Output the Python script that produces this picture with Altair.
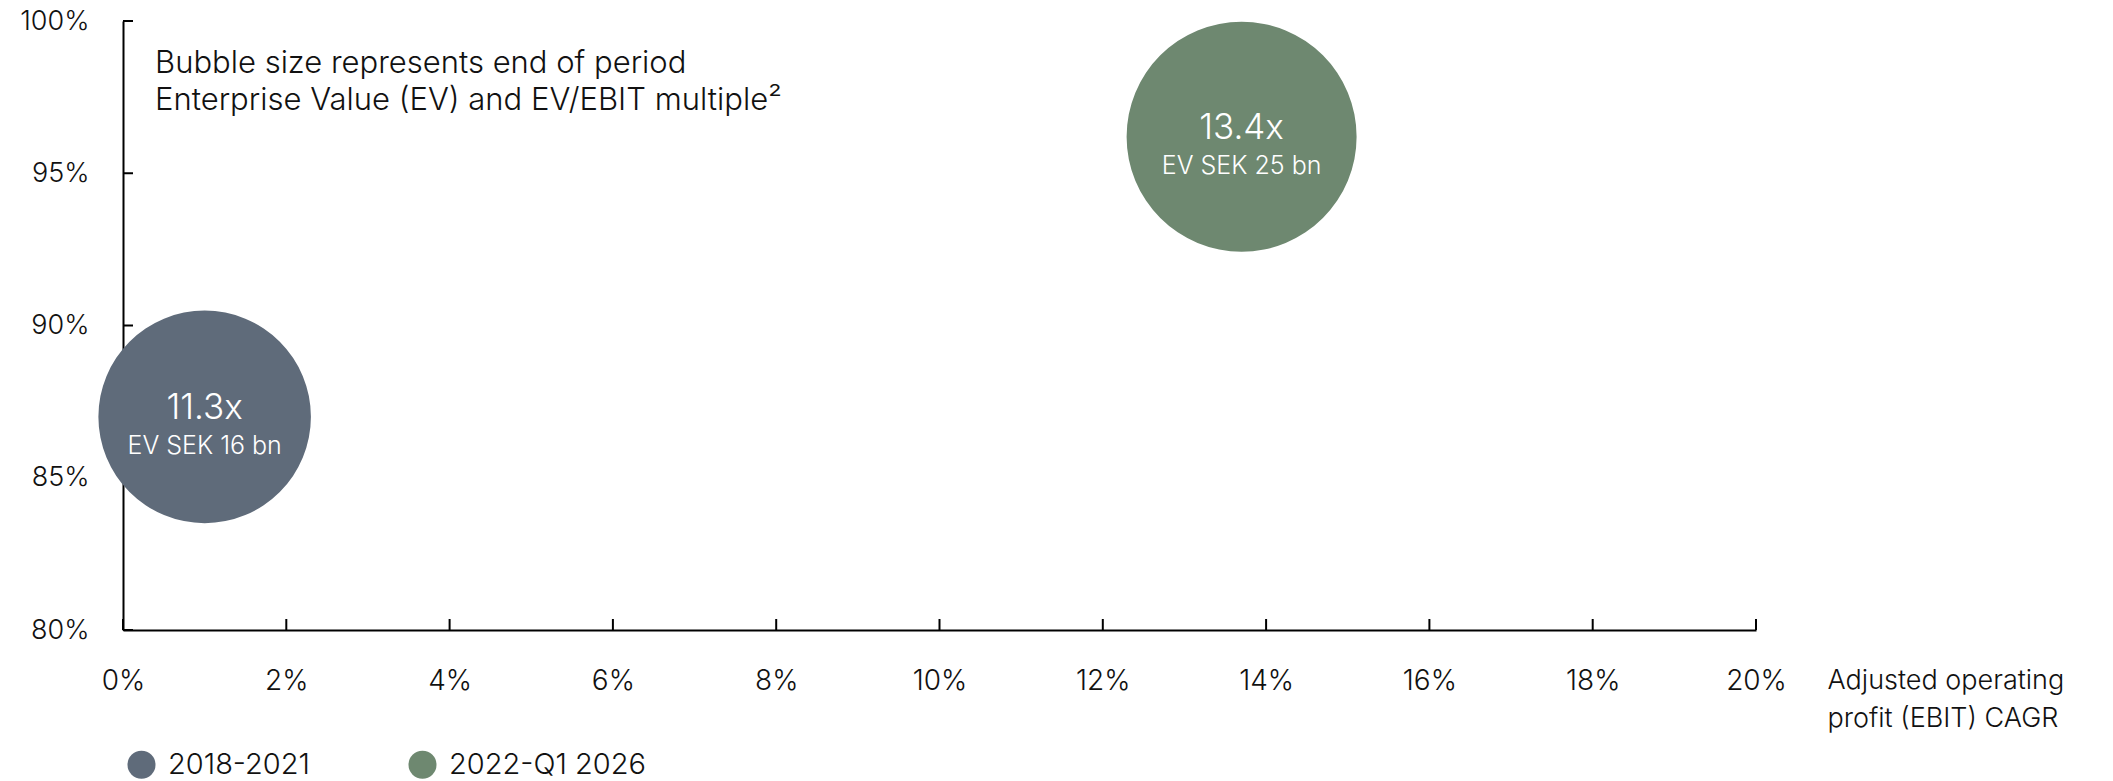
import altair as alt
import pandas as pd

# ---- data ----
periods = ["2018-2021", "2022-Q1 2026"]
ebit_cagr = [1.0, 13.7]          # x, %
y_values = [87.0, 96.2]          # y, %
ev_bn = [16, 25]                 # bubble size driver (EV, SEK bn)
multiple_labels = ["11.3x", "13.4x"]
ev_labels = ["EV SEK 16 bn", "EV SEK 25 bn"]
x_ticks = [0, 2, 4, 6, 8, 10, 12, 14, 16, 18, 20]
y_ticks = [80, 85, 90, 95, 100]
annotation_lines = ["Bubble size represents end of period",
                    "Enterprise Value (EV) and EV/EBIT multiple\u00b2"]
x_title_lines = ["Adjusted operating", "profit (EBIT) CAGR"]

colors = ["#5f6b7a", "#6e8870"]
FONT = "Inter"
TXT = "#111111"
W, H = 1633, 609

df = pd.DataFrame({
    "period": periods,
    "x": ebit_cagr,
    "y": y_values,
    "ev": ev_bn,
    "mult": multiple_labels,
    "evlab": ev_labels,
})

x_scale = alt.Scale(domain=[0, 20], nice=False, zero=False)
y_scale = alt.Scale(domain=[80, 100], nice=False, zero=False)

x_axis = alt.Axis(
    values=x_ticks, labelExpr="datum.value + '%'", ticks=False, tickSize=0,
    grid=False, domainColor="#000000", domainWidth=2,
    labelFont=FONT, labelFontSize=28, labelFontWeight=300, labelColor=TXT,
    labelPadding=59, labelBaseline="alphabetic", labelFlush=False,
    labelOverlap=False, labelBound=False,
    title=x_title_lines, titleFont=FONT, titleFontSize=27, titleFontWeight=300,
    titleColor=TXT, titleX=1704, titleY=58, titleAlign="left", titleLimit=600,
    titleBaseline="alphabetic", titleLineHeight=38, titleAngle=0,
)
y_axis = alt.Axis(
    values=y_ticks, labelExpr="datum.value + '%'", ticks=False, tickSize=0,
    grid=False, domainColor="#000000", domainWidth=2,
    labelFont=FONT, labelFontSize=27, labelFontWeight=300, labelColor=TXT,
    labelPadding=34, labelBaseline="middle", labelFlush=False,
    labelOverlap=False, labelBound=False, title="",
)

X = alt.X("x:Q", scale=x_scale, axis=x_axis)
Y = alt.Y("y:Q", scale=y_scale, axis=y_axis)

x_tick_rules = alt.Chart(pd.DataFrame({"x": x_ticks})).mark_rule(
    color="#000000", strokeWidth=2
).encode(
    x=X, y=alt.value(H), y2=alt.value(H - 11),
)

y_tick_rules = alt.Chart(pd.DataFrame({"y": y_ticks})).mark_rule(
    color="#000000", strokeWidth=2
).encode(
    y=Y, x=alt.value(0), x2=alt.value(10),
)

base = alt.Chart(df)

bubbles = base.mark_circle(opacity=1, strokeWidth=0).encode(
    x=X, y=Y,
    size=alt.Size("ev:Q", scale=alt.Scale(domain=[16, 25], range=[45156, 52900]), legend=None),
    color=alt.Color(
        "period:N",
        scale=alt.Scale(domain=periods, range=colors),
        legend=alt.Legend(
            orient="none", legendX=4, legendY=729, direction="horizontal",
            title=None, symbolType="circle", symbolSize=784, symbolStrokeWidth=0,
            symbolOpacity=1, labelFont=FONT, labelFontSize=29, labelFontWeight=300,
            labelColor=TXT, labelOffset=12, columnPadding=98, padding=0,
            labelLimit=400,
        ),
    ),
)

mult_text = base.mark_text(
    font=FONT, fontSize=35, fontWeight=300, color="white",
    align="center", baseline="alphabetic", dy=2,
).encode(x=X, y=Y, text="mult:N")

ev_text = base.mark_text(
    font=FONT, fontSize=25, fontWeight=300, color="white",
    align="center", baseline="alphabetic", dy=37,
).encode(x=X, y=Y, text="evlab:N")

annotation = alt.Chart(pd.DataFrame({"a": [0]})).mark_text(
    text=annotation_lines, font=FONT, fontSize=31, fontWeight=300, color=TXT,
    align="left", baseline="alphabetic", lineHeight=37,
).encode(x=alt.value(32), y=alt.value(52))

chart = alt.layer(
    x_tick_rules, y_tick_rules, bubbles, mult_text, ev_text, annotation
).properties(
    width=W, height=H,
    padding={"left": 115, "top": 13, "right": 349, "bottom": 160},
    autosize="none",
).configure_view(stroke=None)

chart.save("out.html", embed_options={"renderer": "svg", "actions": False})
